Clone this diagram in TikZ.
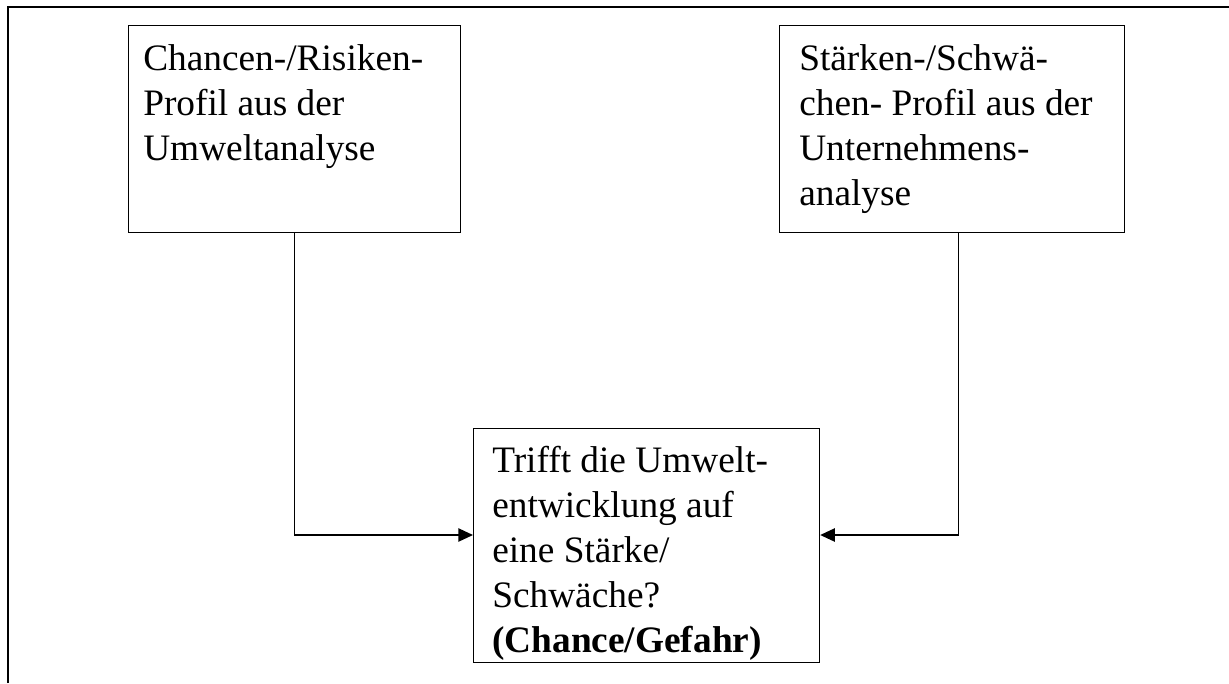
\documentclass[tikz,border=0pt]{standalone}
\usepackage{fontspec}
\setmainfont{Liberation Serif}
\usetikzlibrary{arrows.meta}
\begin{document}
\begin{tikzpicture}[x=0.75pt, y=-0.75pt,
  box/.style={draw, line width=0.9pt, inner sep=0pt, anchor=north west},
  txt/.style={inner sep=0pt, align=left, anchor=base west,
    font=\fontsize{28pt}{33.75pt}\selectfont},
  conn/.style={line width=1pt, -{Triangle[length=11pt, width=10pt]}},
  frame/.style={line width=1.2pt}]
  \useasboundingbox (0,0) rectangle (1229,683);
  % outer frame (top and left only)
  \draw[frame] (8,683) -- (8,7) -- (1229,7);
  % boxes
  \node[box, minimum width=332*0.75pt, minimum height=207*0.75pt] (cr) at (128,25) {};
  \node[box, minimum width=345*0.75pt, minimum height=207*0.75pt] (sw) at (779,25) {};
  \node[box, minimum width=346*0.75pt, minimum height=234*0.75pt] (tr) at (473,428) {};
  % box texts, placed by the baseline of their last line
  \node[txt] (crt) at (143,160) {Chancen-/Risiken-\\Profil aus der\\Umweltanalyse};
  \node[txt] (swt) at (799,205) {Stärken-/Schwä-\\chen- Profil aus der\\Unternehmens-\\analyse};
  \node[txt] (trt) at (492,652) {Trifft die Umwelt-\\entwicklung auf\\eine Stärke/\\Schwäche?\\\textbf{(Chance/Gefahr)}};
  % connectors
  \draw[conn] (cr.south) |- ([yshift=-80.25pt]tr.north west);
  \draw[conn] ([xshift=4.9pt]sw.south) |- ([yshift=-80.25pt]tr.north east);
\end{tikzpicture}
\end{document}
